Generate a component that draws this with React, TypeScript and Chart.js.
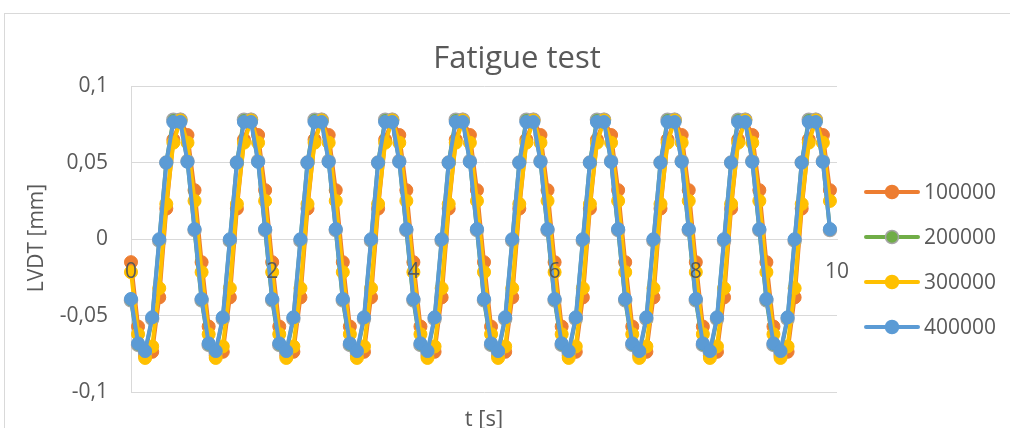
import React, { useEffect, useRef } from 'react';
import { Chart, registerables } from 'chart.js';

Chart.register(...registerables);

// Sample times [s]
const TIME_S = [
  0.0, 0.1, 0.2, 0.3, 0.4, 0.5, 0.6, 0.7, 0.8, 0.9,
  1.0, 1.1, 1.2, 1.3, 1.4, 1.5, 1.6, 1.7, 1.8, 1.9,
  2.0, 2.1, 2.2, 2.3, 2.4, 2.5, 2.6, 2.7, 2.8, 2.9,
  3.0, 3.1, 3.2, 3.3, 3.4, 3.5, 3.6, 3.7, 3.8, 3.9,
  4.0, 4.1, 4.2, 4.3, 4.4, 4.5, 4.6, 4.7, 4.8, 4.9,
  5.0, 5.1, 5.2, 5.3, 5.4, 5.5, 5.6, 5.7, 5.8, 5.9,
  6.0, 6.1, 6.2, 6.3, 6.4, 6.5, 6.6, 6.7, 6.8, 6.9,
  7.0, 7.1, 7.2, 7.3, 7.4, 7.5, 7.6, 7.7, 7.8, 7.9,
  8.0, 8.1, 8.2, 8.3, 8.4, 8.5, 8.6, 8.7, 8.8, 8.9,
  9.0, 9.1, 9.2, 9.3, 9.4, 9.5, 9.6, 9.7, 9.8, 9.9,
];

// LVDT displacement [mm] after 100000 cycles
const LVDT_100000 = [
  -0.015, -0.057, -0.076, -0.0735, -0.038, 0.02, 0.065, 0.078, 0.068, 0.032,
  -0.015, -0.057, -0.076, -0.0735, -0.038, 0.02, 0.065, 0.078, 0.068, 0.032,
  -0.015, -0.057, -0.076, -0.0735, -0.038, 0.02, 0.065, 0.078, 0.068, 0.032,
  -0.015, -0.057, -0.076, -0.0735, -0.038, 0.02, 0.065, 0.078, 0.068, 0.032,
  -0.015, -0.057, -0.076, -0.0735, -0.038, 0.02, 0.065, 0.078, 0.068, 0.032,
  -0.015, -0.057, -0.076, -0.0735, -0.038, 0.02, 0.065, 0.078, 0.068, 0.032,
  -0.015, -0.057, -0.076, -0.0735, -0.038, 0.02, 0.065, 0.078, 0.068, 0.032,
  -0.015, -0.057, -0.076, -0.0735, -0.038, 0.02, 0.065, 0.078, 0.068, 0.032,
  -0.015, -0.057, -0.076, -0.0735, -0.038, 0.02, 0.065, 0.078, 0.068, 0.032,
  -0.015, -0.057, -0.076, -0.0735, -0.038, 0.02, 0.065, 0.078, 0.068, 0.032,
];

// LVDT displacement [mm] after 200000 cycles
const LVDT_200000 = [
  -0.04, -0.069, -0.074, -0.052, -0.001, 0.05, 0.078, 0.078, 0.051, 0.006,
  -0.04, -0.069, -0.074, -0.052, -0.001, 0.05, 0.078, 0.078, 0.051, 0.006,
  -0.04, -0.069, -0.074, -0.052, -0.001, 0.05, 0.078, 0.078, 0.051, 0.006,
  -0.04, -0.069, -0.074, -0.052, -0.001, 0.05, 0.078, 0.078, 0.051, 0.006,
  -0.04, -0.069, -0.074, -0.052, -0.001, 0.05, 0.078, 0.078, 0.051, 0.006,
  -0.04, -0.069, -0.074, -0.052, -0.001, 0.05, 0.078, 0.078, 0.051, 0.006,
  -0.04, -0.069, -0.074, -0.052, -0.001, 0.05, 0.078, 0.078, 0.051, 0.006,
  -0.04, -0.069, -0.074, -0.052, -0.001, 0.05, 0.078, 0.078, 0.051, 0.006,
  -0.04, -0.069, -0.074, -0.052, -0.001, 0.05, 0.078, 0.078, 0.051, 0.006,
  -0.04, -0.069, -0.074, -0.052, -0.001, 0.05, 0.078, 0.078, 0.051, 0.006,
];

// LVDT displacement [mm] after 300000 cycles
const LVDT_300000 = [
  -0.0215, -0.062, -0.0775, -0.07, -0.032, 0.023, 0.063, 0.0775, 0.063, 0.025,
  -0.0215, -0.062, -0.0775, -0.07, -0.032, 0.023, 0.063, 0.0775, 0.063, 0.025,
  -0.0215, -0.062, -0.0775, -0.07, -0.032, 0.023, 0.063, 0.0775, 0.063, 0.025,
  -0.0215, -0.062, -0.0775, -0.07, -0.032, 0.023, 0.063, 0.0775, 0.063, 0.025,
  -0.0215, -0.062, -0.0775, -0.07, -0.032, 0.023, 0.063, 0.0775, 0.063, 0.025,
  -0.0215, -0.062, -0.0775, -0.07, -0.032, 0.023, 0.063, 0.0775, 0.063, 0.025,
  -0.0215, -0.062, -0.0775, -0.07, -0.032, 0.023, 0.063, 0.0775, 0.063, 0.025,
  -0.0215, -0.062, -0.0775, -0.07, -0.032, 0.023, 0.063, 0.0775, 0.063, 0.025,
  -0.0215, -0.062, -0.0775, -0.07, -0.032, 0.023, 0.063, 0.0775, 0.063, 0.025,
  -0.0215, -0.062, -0.0775, -0.07, -0.032, 0.023, 0.063, 0.0775, 0.063, 0.025,
];

// LVDT displacement [mm] after 400000 cycles
const LVDT_400000 = [
  -0.039, -0.068, -0.073, -0.051, 0.0, 0.05, 0.0765, 0.0765, 0.0505, 0.0066,
  -0.039, -0.068, -0.073, -0.051, 0.0, 0.05, 0.0765, 0.0765, 0.0505, 0.0066,
  -0.039, -0.068, -0.073, -0.051, 0.0, 0.05, 0.0765, 0.0765, 0.0505, 0.0066,
  -0.039, -0.068, -0.073, -0.051, 0.0, 0.05, 0.0765, 0.0765, 0.0505, 0.0066,
  -0.039, -0.068, -0.073, -0.051, 0.0, 0.05, 0.0765, 0.0765, 0.0505, 0.0066,
  -0.039, -0.068, -0.073, -0.051, 0.0, 0.05, 0.0765, 0.0765, 0.0505, 0.0066,
  -0.039, -0.068, -0.073, -0.051, 0.0, 0.05, 0.0765, 0.0765, 0.0505, 0.0066,
  -0.039, -0.068, -0.073, -0.051, 0.0, 0.05, 0.0765, 0.0765, 0.0505, 0.0066,
  -0.039, -0.068, -0.073, -0.051, 0.0, 0.05, 0.0765, 0.0765, 0.0505, 0.0066,
  -0.039, -0.068, -0.073, -0.051, 0.0, 0.05, 0.0765, 0.0765, 0.0505, 0.0066,
];

const SERIES_LABELS = ['100000', '200000', '300000', '400000'];
const SERIES_VALUES = [LVDT_100000, LVDT_200000, LVDT_300000, LVDT_400000];
const SERIES_COLORS = ['#ED7D31', '#70AD47', '#FFC000', '#5B9BD5'];
const MARKER_BORDERS = ['#ED7D31', '#A5A5A5', '#FFC000', '#5B9BD5'];

const X_TICKS = [0, 2, 4, 6, 8, 10];
const Y_TICKS = [-0.1, -0.05, 0, 0.05, 0.1];

const CHART_TITLE = 'Fatigue test';
const X_TITLE = 't [s]';
const Y_TITLE = 'LVDT [mm]';

const FONT = '"Open Sans", "DejaVu Sans", sans-serif';
const TEXT_COLOR = '#595959';
const GRID_COLOR = '#D9D9D9';

const fmtComma = (v: number) => String(Math.round(v * 100) / 100).replace('.', ',');

// Frame, titles and the line-with-marker legend on the right
const decorations = {
  id: 'decorations',
  beforeDraw(chart: any) {
    const ctx = chart.ctx;
    ctx.save();
    ctx.fillStyle = '#ffffff';
    ctx.fillRect(0, 0, chart.width, chart.height);
    ctx.strokeStyle = GRID_COLOR;
    ctx.lineWidth = 1;
    ctx.strokeRect(4.5, 13.5, chart.width + 60, chart.height + 60);
    ctx.restore();
  },
  afterDraw(chart: any) {
    const ctx = chart.ctx;
    const area = chart.chartArea;
    ctx.save();
    ctx.fillStyle = TEXT_COLOR;

    ctx.font = `31px ${FONT}`;
    ctx.textAlign = 'center';
    ctx.textBaseline = 'alphabetic';
    ctx.fillText(CHART_TITLE, 517, 68);

    ctx.font = `22px ${FONT}`;
    ctx.fillText(X_TITLE, (area.left + area.right) / 2, 426);

    ctx.save();
    ctx.translate(37, 238);
    ctx.rotate(-Math.PI / 2);
    ctx.font = `21px ${FONT}`;
    ctx.textBaseline = 'middle';
    ctx.fillText(Y_TITLE, 0, 0);
    ctx.restore();

    ctx.font = `21px ${FONT}`;
    ctx.textAlign = 'left';
    ctx.textBaseline = 'middle';
    SERIES_LABELS.forEach((label, i) => {
      const y = 192 + i * 45;
      ctx.strokeStyle = SERIES_COLORS[i];
      ctx.lineWidth = 4;
      ctx.lineCap = 'round';
      ctx.beginPath();
      ctx.moveTo(866, y);
      ctx.lineTo(918, y);
      ctx.stroke();
      ctx.beginPath();
      ctx.arc(892, y, 6.5, 0, Math.PI * 2);
      ctx.fillStyle = SERIES_COLORS[i];
      ctx.fill();
      ctx.lineWidth = 1.5;
      ctx.strokeStyle = MARKER_BORDERS[i];
      ctx.stroke();
      ctx.fillStyle = TEXT_COLOR;
      ctx.fillText(label, 924, y + 1);
    });
    ctx.restore();
  },
};

export default function App() {
  const canvasRef = useRef<HTMLCanvasElement | null>(null);

  useEffect(() => {
    if (!canvasRef.current) return;
    const order = [4, 3, 2, 1];
    const datasets = SERIES_LABELS.map((label, i) => ({
      label,
      data: TIME_S.map((t, k) => ({ x: t, y: SERIES_VALUES[i][k] })),
      showLine: true,
      borderColor: SERIES_COLORS[i],
      backgroundColor: SERIES_COLORS[i],
      borderWidth: 4,
      tension: 0,
      pointRadius: 6.5,
      pointHoverRadius: 6.5,
      pointBackgroundColor: SERIES_COLORS[i],
      pointBorderColor: MARKER_BORDERS[i],
      pointBorderWidth: i === 1 ? 1.5 : 1,
      clip: false as any,
      order: order[i],
    }));

    const chart = new Chart(canvasRef.current, {
      type: 'scatter',
      data: { datasets },
      plugins: [decorations],
      options: {
        animation: false,
        responsive: false,
        maintainAspectRatio: false,
        events: [],
        layout: { padding: { left: 0, top: 86, right: 173, bottom: 32 } },
        plugins: {
          legend: { display: false },
          title: { display: false },
          tooltip: { enabled: false },
        },
        scales: {
          x: {
            type: 'linear',
            position: { y: 0 } as any,
            min: 0,
            max: 10,
            afterFit: (scale: any) => { scale.height = 0; },
            afterBuildTicks: (scale: any) => { scale.ticks = X_TICKS.map((v) => ({ value: v })); },
            grid: { display: false, drawTicks: false },
            border: { display: true, color: GRID_COLOR, width: 1 },
            ticks: {
              z: 1,
              padding: 20,
              color: TEXT_COLOR,
              font: { family: FONT, size: 21 },
              maxRotation: 0,
              autoSkip: false,
              callback: (v: any) => String(v),
            },
            title: { display: false },
          },
          y: {
            type: 'linear',
            position: 'left',
            min: -0.1,
            max: 0.1,
            afterFit: (scale: any) => { scale.width = 131; },
            afterBuildTicks: (scale: any) => { scale.ticks = Y_TICKS.map((v) => ({ value: v })); },
            grid: { color: GRID_COLOR, lineWidth: 1, drawTicks: false },
            border: { display: true, color: GRID_COLOR, width: 1 },
            ticks: {
              padding: 23,
              color: TEXT_COLOR,
              font: { family: FONT, size: 21 },
              callback: (v: any) => fmtComma(Number(v)),
            },
            title: { display: false },
          },
        },
      },
    });
    return () => chart.destroy();
  }, []);

  return (
    <div style={{ position: 'absolute', left: 0, top: 0, width: 1010, height: 428, background: '#fff' }}>
      <canvas ref={canvasRef} width={1010} height={428} style={{ display: 'block' }} />
    </div>
  );
}
